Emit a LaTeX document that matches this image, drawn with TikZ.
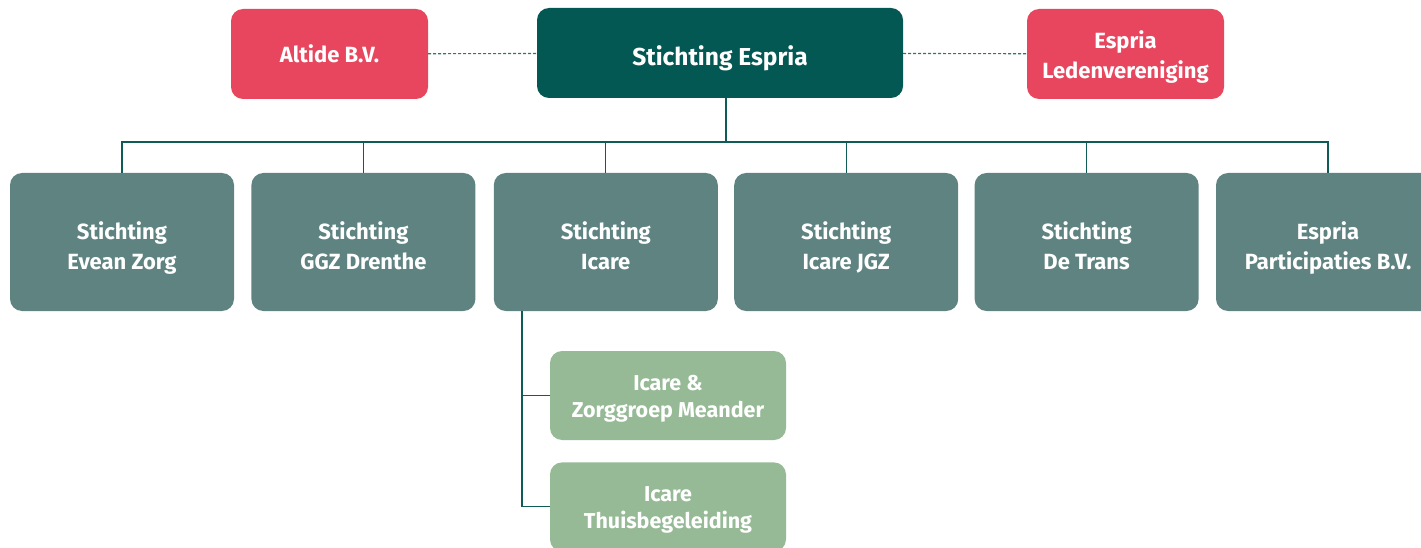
\documentclass[tikz,border=0pt]{standalone}
\usepackage{fontspec}
\setmainfont{Fira Sans}
\usetikzlibrary{positioning}
\definecolor{espriared}{HTML}{E8465E}
\definecolor{espriadark}{HTML}{035853}
\definecolor{espriamid}{HTML}{5E8381}
\definecolor{esprialight}{HTML}{97BA96}
\definecolor{linecol}{HTML}{0F5C57}
\definecolor{dashcol}{HTML}{2F7470}
% pushes the text of a box a little down (height, depth)
\newcommand{\lowertext}[2]{\rule[-#2]{0pt}{\dimexpr#1+#2\relax}}

\begin{document}
\begin{tikzpicture}[x=1pt, y=-1pt,
    box/.style={rectangle, rounded corners=12pt, text=white, align=center, inner sep=0pt,
      font=\bfseries\fontsize{22}{30}\selectfont},
    pinkbox/.style={box, fill=espriared, minimum width=197pt, minimum height=90pt},
    topbox/.style={box, fill=espriadark, minimum width=366pt, minimum height=90pt,
      font=\bfseries\fontsize{24.5}{30}\selectfont, execute at begin node=\lowertext{33pt}{7pt}},
    unitbox/.style={box, fill=espriamid, minimum width=224pt, minimum height=138pt,
      execute at begin node=\lowertext{62pt}{7pt}},
    subbox/.style={box, fill=esprialight, minimum width=236pt, minimum height=89pt,
      font=\bfseries\fontsize{21.5}{27}\selectfont, execute at begin node=\lowertext{51pt}{7pt}},
    link/.style={draw=linecol, line width=1.1pt},
    loose/.style={draw=dashcol, line width=1.1pt, dash pattern=on 3pt off 2pt}]
  \path[use as bounding box, clip] (0,0) rectangle (1421,548);

  \node[topbox] (espria) at (720,53) {Stichting Espria};
  \node[pinkbox] (altide) at (329.5,54) {Altide B.V.};
  \node[pinkbox, execute at begin node=\lowertext{56pt}{7pt}] (leden) at (1125.5,54) {Espria\\Ledenvereniging};

  \node[unitbox] (evean) at (122,242) {Stichting\\Evean Zorg};
  \node[unitbox, right=17pt of evean] (ggz) {Stichting\\GGZ Drenthe};
  \node[unitbox, right=18pt of ggz] (icare) {Stichting\\Icare};
  \node[unitbox, right=16pt of icare] (jgz) {Stichting\\Icare JGZ};
  \node[unitbox, right=16pt of jgz] (trans) {Stichting\\De Trans};
  \node[unitbox, right=17pt of trans] (part) {Espria\\Participaties B.V.};

  \node[subbox] (meander) at (668,395.5) {Icare \&\\Zorggroep Meander};
  \node[subbox, below=22pt of meander] (thuis) {Icare\\Thuisbegeleiding};

  % Edges
  \draw[loose] (altide) -- (espria);
  \draw[loose] (espria) -- (leden);
  \coordinate (hub) at (726,142);
  \draw[link] (hub |- espria.south) -- (hub);
  \draw[link] (evean.north) |- (part.north |- hub) -- (part.north);
  \foreach \unit in {ggz, icare, jgz, trans}
    \draw[link] (\unit.north) -- (\unit.north |- hub);
  \coordinate (rail) at (522,311);
  \draw[link] (rail) |- (meander.west);
  \draw[link] (rail) |- (thuis.west);
\end{tikzpicture}
\end{document}
